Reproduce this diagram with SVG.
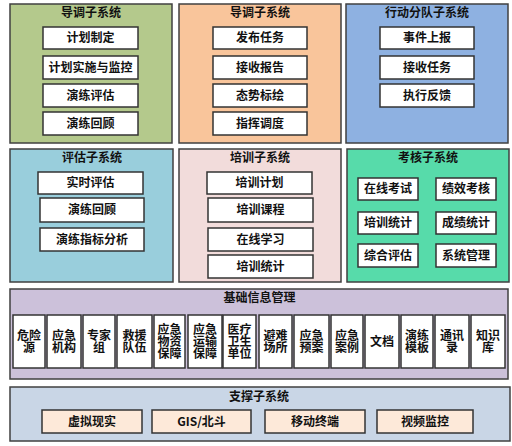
<svg xmlns="http://www.w3.org/2000/svg" width="512" height="446" viewBox="0 0 512 446">
<style>
.panel{stroke:#404040;stroke-width:1.5}
.box{fill:#fff;stroke:#333;stroke-width:1.5}
.sbox{fill:#FDE9D9;stroke:#333;stroke-width:1.5}
text{font-family:"Noto Sans CJK SC","Noto Sans",sans-serif;font-weight:bold;font-size:12px;fill:#111;text-anchor:middle}
.t{font-size:12px}
</style>
<rect width="512" height="446" fill="#fff"/>

<g id="daotiao1">
<rect class="panel" x="10" y="4" width="162" height="139" fill="#B4C98C"/>
<text class="t" x="91" y="17">导调子系统</text>
<rect class="box" x="43" y="27" width="95" height="22"/><text x="90.5" y="42.3">计划制定</text>
<rect class="box" x="43" y="56" width="95" height="23"/><text x="90.5" y="71.8">计划实施与监控</text>
<rect class="box" x="43" y="84" width="95" height="23"/><text x="90.5" y="99.8">演练评估</text>
<rect class="box" x="43" y="112" width="95" height="23"/><text x="90.5" y="127.8">演练回顾</text>
</g>

<g id="daotiao2">
<rect class="panel" x="179" y="4" width="162" height="139" fill="#F9C59B"/>
<text class="t" x="260" y="17">导调子系统</text>
<rect class="box" x="213" y="27" width="94" height="22"/><text x="260" y="42.3">发布任务</text>
<rect class="box" x="213" y="56" width="94" height="23"/><text x="260" y="71.8">接收报告</text>
<rect class="box" x="213" y="84" width="94" height="23"/><text x="260" y="99.8">态势标绘</text>
<rect class="box" x="213" y="112" width="94" height="23"/><text x="260" y="127.8">指挥调度</text>
</g>

<g id="xingdong">
<rect class="panel" x="346" y="4" width="162" height="139" fill="#8EB1E1"/>
<text class="t" x="427" y="17">行动分队子系统</text>
<rect class="box" x="380" y="27" width="94" height="22"/><text x="427" y="42.3">事件上报</text>
<rect class="box" x="380" y="56" width="94" height="23"/><text x="427" y="71.8">接收任务</text>
<rect class="box" x="380" y="84" width="94" height="23"/><text x="427" y="99.8">执行反馈</text>
</g>

<g id="pinggu">
<rect class="panel" x="10" y="149" width="163" height="133" fill="#99CEDC"/>
<text class="t" x="92" y="162">评估子系统</text>
<rect class="box" x="38" y="172" width="105" height="22"/><text x="90.5" y="187.3">实时评估</text>
<rect class="box" x="40" y="198" width="104" height="24"/><text x="92" y="214.3">演练回顾</text>
<rect class="box" x="40" y="228" width="104" height="23"/><text x="92" y="243.8">演练指标分析</text>
</g>

<g id="peixun">
<rect class="panel" x="179" y="149" width="162" height="133" fill="#F2DCDB"/>
<text class="t" x="260" y="162">培训子系统</text>
<rect class="box" x="207" y="172" width="105" height="22"/><text x="259.5" y="187.3">培训计划</text>
<rect class="box" x="208" y="198" width="105" height="24"/><text x="260.5" y="214.3">培训课程</text>
<rect class="box" x="208" y="228" width="105" height="23"/><text x="260.5" y="243.8">在线学习</text>
<rect class="box" x="208" y="255" width="105" height="23"/><text x="260.5" y="270.8">培训统计</text>
</g>

<g id="kaohe">
<rect class="panel" x="347" y="149" width="162" height="133" fill="#57DBAA"/>
<text class="t" x="428" y="162">考核子系统</text>
<rect class="box" x="358" y="178" width="60" height="22"/><text x="388" y="193.3">在线考试</text>
<rect class="box" x="436" y="178" width="60" height="22"/><text x="466" y="193.3">绩效考核</text>
<rect class="box" x="358" y="212" width="60" height="22"/><text x="388" y="227.3">培训统计</text>
<rect class="box" x="436" y="212" width="60" height="22"/><text x="466" y="227.3">成绩统计</text>
<rect class="box" x="358" y="244" width="60" height="23"/><text x="388" y="259.8">综合评估</text>
<rect class="box" x="436" y="244" width="60" height="23"/><text x="466" y="259.8">系统管理</text>
</g>

<g id="jichu">
<rect class="panel" x="10" y="289" width="498" height="90" fill="#CCC1DA"/>
<text class="t" x="259.5" y="302">基础信息管理</text>
<rect class="box" x="13" y="315" width="32" height="53"/><text x="29" y="339.8">危险</text><text x="29" y="351.8">源</text>
<rect class="box" x="47" y="315" width="34" height="53"/><text x="64" y="339.8">应急</text><text x="64" y="351.8">机构</text>
<rect class="box" x="83" y="315" width="32" height="53"/><text x="99" y="339.8">专家</text><text x="99" y="351.8">组</text>
<rect class="box" x="117" y="315" width="35" height="53"/><text x="134.5" y="339.8">救援</text><text x="134.5" y="351.8">队伍</text>
<rect class="box" x="154" y="315" width="31" height="53"/><text x="169.5" y="333.8">应急</text><text x="169.5" y="345.8">物资</text><text x="169.5" y="357.8">保障</text>
<rect class="box" x="188" y="315" width="34" height="53"/><text x="205" y="333.8">应急</text><text x="205" y="345.8">运输</text><text x="205" y="357.8">保障</text>
<rect class="box" x="223" y="315" width="33" height="53"/><text x="239.5" y="333.8">医疗</text><text x="239.5" y="345.8">卫生</text><text x="239.5" y="357.8">单位</text>
<rect class="box" x="259" y="315" width="33" height="53"/><text x="275.5" y="339.8">避难</text><text x="275.5" y="351.8">场所</text>
<rect class="box" x="294" y="315" width="35" height="53"/><text x="311.5" y="339.8">应急</text><text x="311.5" y="351.8">预案</text>
<rect class="box" x="331" y="315" width="32" height="53"/><text x="347" y="339.8">应急</text><text x="347" y="351.8">案例</text>
<rect class="box" x="365" y="315" width="34" height="53"/><text x="382" y="345.8">文档</text>
<rect class="box" x="401" y="315" width="32" height="53"/><text x="417" y="339.8">演练</text><text x="417" y="351.8">模板</text>
<rect class="box" x="435" y="315" width="34" height="53"/><text x="452" y="339.8">通讯</text><text x="452" y="351.8">录</text>
<rect class="box" x="471" y="315" width="34" height="53"/><text x="488" y="339.8">知识</text><text x="488" y="351.8">库</text>
</g>

<g id="zhicheng">
<rect class="panel" x="10" y="387" width="500" height="54" fill="#C9D6E6"/>
<text class="t" x="259" y="401">支撑子系统</text>
<rect class="sbox" x="42" y="410" width="100" height="23"/><text x="92" y="425.8">虚拟现实</text>
<rect class="sbox" x="152" y="410" width="99" height="23"/><text x="201.5" y="425.8">GIS/北斗</text>
<rect class="sbox" x="265" y="410" width="100" height="23"/><text x="315" y="425.8">移动终端</text>
<rect class="sbox" x="377" y="410" width="96" height="23"/><text x="425" y="425.8">视频监控</text>
</g>

<g id="connectors"></g>
</svg>
